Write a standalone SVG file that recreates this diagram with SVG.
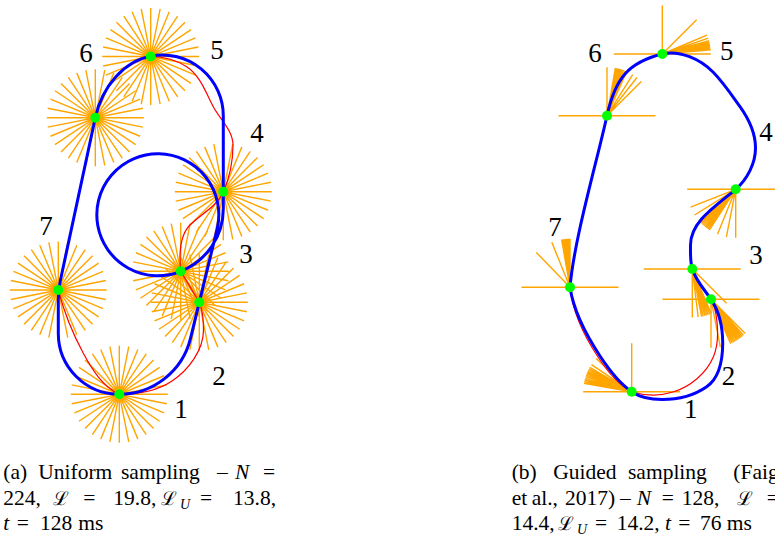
<svg xmlns="http://www.w3.org/2000/svg" xmlns:xlink="http://www.w3.org/1999/xlink" width="775" height="535" viewBox="0 0 775 535">
<style>
.ray{stroke:#FFA500;stroke-width:1.4;fill:none}
.blue{stroke:#0000FF;stroke-width:3;fill:none;stroke-linejoin:round}
.red{stroke:#FF0000;stroke-width:1.2;fill:none}
.wp{fill:#00FF00}
.lbl{font-family:"Liberation Serif","DejaVu Serif",serif;font-size:27px;text-anchor:middle;fill:#000}
.cap{font-family:"Liberation Serif","DejaVu Serif",serif;font-size:21.5px;fill:#000}
.it{font-style:italic}
.sc{font-size:19px}
.sub{font-style:italic;font-size:14px}
</style>
<defs>
<path id="star" class="ray" d="M48.5 0H-48.5M47.57 9.46L-47.57 -9.46M44.81 18.56L-44.81 -18.56M40.33 26.94L-40.33 -26.94M34.29 34.29L-34.29 -34.29M26.94 40.33L-26.94 -40.33M18.56 44.81L-18.56 -44.81M9.46 47.57L-9.46 -47.57M0 48.5V-48.5M-9.46 47.57L9.46 -47.57M-18.56 44.81L18.56 -44.81M-26.94 40.33L26.94 -40.33M-34.29 34.29L34.29 -34.29M-40.33 26.94L40.33 -26.94M-44.81 18.56L44.81 -18.56M-47.57 9.46L47.57 -9.46"/>
</defs>
<rect width="775" height="535" fill="#fff"/>

<!-- Panel (a): uniform sampling -->
<g id="a-samples">
<use xlink:href="#star" href="#star" x="119.3" y="394.3"/>
<use xlink:href="#star" href="#star" x="199.3" y="302.3"/>
<use xlink:href="#star" href="#star" x="180.7" y="271.3"/>
<use xlink:href="#star" href="#star" x="223.3" y="191.7"/>
<use xlink:href="#star" href="#star" x="150.7" y="56.5"/>
<use xlink:href="#star" href="#star" x="95.3" y="117.7"/>
<use xlink:href="#star" href="#star" x="58.3" y="290"/>
</g>
<g id="a-connectors">
<path class="red" d="M119.3 394.3C137.4 394.3 157 391.1 172 381C188.6 369.8 203.5 350 203.5 330C203.5 320.7 203 310.9 199.3 302.3L180.7 271.3C179.1 255.6 179 236 190 225C200.9 214.1 217.1 206.4 223.3 192C229.7 177.3 233 161 233 145C233 130.6 220.1 119.4 213.3 106.7C205.8 92.6 200.1 75.5 186.7 66.7C176.2 59.8 163.2 56.7 150.7 56.5C124.3 61.2 102.1 85.9 95.3 117.7L58.3 290C64 312 72.6 333.3 83.3 353.3C91.9 369.3 102.9 387 119.3 394.3"/>
<path class="blue" d="M119.3 394.3A73.3 73.3 0 0 0 190.5 338.4L199.3 302.3L217.3 228.3A61 61 0 1 0 180.7 271.3A67.4 67.4 0 0 0 223.3 208.6L223.3 116A61 61 0 0 0 150.7 56.1C124.3 61.2 102.1 85.9 95.3 117.7L60.4 280.3Q58.3 290 58.3 300L58.3 333.5A61 61 0 0 0 119.3 394.3Z"/>
</g>
<g id="a-waypoints">
<g id="a-wp1"><circle class="wp" cx="119.3" cy="394.3" r="5"/><text class="lbl" x="181" y="418">1</text></g>
<g id="a-wp2"><circle class="wp" cx="199.3" cy="302.3" r="5"/><text class="lbl" x="219" y="385">2</text></g>
<g id="a-wp3"><circle class="wp" cx="180.7" cy="271.3" r="5"/><text class="lbl" x="246" y="263">3</text></g>
<g id="a-wp4"><circle class="wp" cx="223.3" cy="191.7" r="5"/><text class="lbl" x="257" y="141.5">4</text></g>
<g id="a-wp5"><circle class="wp" cx="150.7" cy="56.5" r="5"/><text class="lbl" x="217" y="59">5</text></g>
<g id="a-wp6"><circle class="wp" cx="95.3" cy="117.7" r="5"/><text class="lbl" x="86" y="62">6</text></g>
<g id="a-wp7"><circle class="wp" cx="58.3" cy="290" r="5"/><text class="lbl" x="46" y="235">7</text></g>
</g>

<!-- Panel (b): guided sampling -->
<g id="b-samples" class="ray">
<path transform="translate(631.7 391.7)" d="M-48.5 0H48.5M0 0V-48.5M0 0L-42 -24.3M0 0L-42.8 -22.8M0 0L-43.6 -21.3M0 0L-44.3 -19.7M0 0L-45 -18.2M0 0L-45.6 -16.6M0 0L-46.1 -15M0 0L-46.6 -13.4M0 0L-47.1 -11.7M0 0L-47.4 -10.1M0 0L-47.8 -8.4M0 0L-40.2 -27.1M0 0L-35.5 -33.1"/>
<path transform="translate(711 299.3)" d="M-48.5 0H48.5M0 0V48.5M0 0L34.3 34.3M0 0L32.5 36M0 0L31.2 37.2M0 0L29.9 38.2M0 0L28.5 39.2M0 0L27.1 40.2M0 0L25.7 41.1M0 0L24.3 42M0 0L22.8 42.8M0 0L21.3 43.6M0 0L19.7 44.3M0 0L9.3 47.6"/>
<path transform="translate(692.3 269)" d="M-48.5 0H48.5M0 0V48.5M0 0L34.3 34.3M0 0L18.9 44.6M0 0L17.4 45.3M0 0L15.8 45.9M0 0L14.2 46.4M0 0L12.6 46.8M0 0L10.9 47.3M0 0L9.3 47.6M0 0L5.9 48.1"/>
<path transform="translate(735.7 189.3)" d="M-48.5 0H48.5M0 0V48.5M0 0L-45.1 17.8M0 0L-41.1 25.7M0 0L-36.6 31.8M0 0L-35.5 33.1M0 0L-34.3 34.3M0 0L-33.1 35.5M0 0L-31.8 36.6M0 0L-30.5 37.7M0 0L-29.2 38.7M0 0L-27.8 39.7M0 0L-26.4 40.7M0 0L-18.2 45M0 0L-9.3 47.6"/>
<path transform="translate(662.3 54)" d="M-48.5 0H48.5M0 0V-48.5M0 0L34.3 -34.3M0 0L44.6 -18.9M0 0L45.9 -15.8M0 0L46.6 -13.4M0 0L47.1 -11.7M0 0L47.3 -10.9M0 0L47.4 -10.1M0 0L47.6 -9.3M0 0L47.8 -8.4M0 0L47.9 -7.6M0 0L48 -6.8M0 0L48.1 -5.9M0 0L48.2 -5.1M0 0L48.3 -4.2"/>
<path transform="translate(607 115.7)" d="M-48.5 0H48.5M0 0V-48.5M0 0L34.3 -34.3M0 0L29.9 -38.2M0 0L25.7 -41.1M0 0L19.7 -44.3M0 0L18.2 -45M0 0L16.6 -45.6M0 0L15 -46.1M0 0L14.2 -46.4M0 0L13.4 -46.6M0 0L12.6 -46.8M0 0L11.7 -47.1M0 0L10.9 -47.3M0 0L10.1 -47.4M0 0L9.3 -47.6M0 0L8.4 -47.8"/>
<path transform="translate(570 287.3)" d="M-48.5 0H48.5M0 0V-48.5M0 0L-0.8 -48.5M0 0L-1.7 -48.5M0 0L-2.5 -48.4M0 0L-3.4 -48.4M0 0L-4.2 -48.3M0 0L-5.1 -48.2M0 0L-5.9 -48.1M0 0L-6.8 -48M0 0L-7.6 -47.9M0 0L-8.4 -47.8M0 0L-18.2 -45M0 0L-33.7 -34.9"/>
</g>
<g id="b-connectors">
<path class="red" d="M570 287.3C572.5 312 584 336 598 357C607 371 617 384 631.7 391.7C644.8 395.8 660.2 396 673 392C690.1 386.8 706.4 373.4 713.3 357C717.9 346.2 718.2 333.7 717 322C716.2 314.2 715.4 305.8 711 299.3C704.3 289.4 695.8 280.4 692.3 269C690 261.3 690.5 253 690.5 245C690.5 221.1 717.5 204.8 735.7 189.3C747.3 179.4 755.5 163.3 755.5 148C755.5 133.3 748.5 118.6 740 106.7C731.5 94.8 723.3 82.4 713 72C700.5 59.3 679.7 49.7 662.3 54C629 62.2 615.2 77.6 607 115.7C596 165 574 240 570 287.3"/>
<path class="blue" d="M631.7 391.7C640.3 397.5 651.6 399.5 662 399.5C677.5 399.5 694 395.5 706.7 386.7C719.4 377.9 722.7 358.5 722.7 343C722.7 327.9 719.5 311.8 711 299.3C704.3 289.4 695.8 280.4 692.3 269C690 261.3 690.5 253 690.5 245C690.5 221.1 717.5 204.8 735.7 189.3C747.3 179.4 755.5 163.3 755.5 148C755.5 133.3 748.5 118.6 740 106.7C731.5 94.8 723.3 82.4 713 72C700.5 59.3 679.7 49.7 662.3 54C629 62.2 615.2 77.6 607 115.7C596 165 574 240 570 287.3C573.7 312 586.3 335.3 600 356C608.7 369.2 618.5 382.8 631.7 391.7Z"/>
</g>
<g id="b-waypoints">
<g id="b-wp1"><circle class="wp" cx="631.7" cy="391.7" r="5"/><text class="lbl" x="690.7" y="417.5">1</text></g>
<g id="b-wp2"><circle class="wp" cx="711" cy="299.3" r="5"/><text class="lbl" x="728.5" y="384.5">2</text></g>
<g id="b-wp3"><circle class="wp" cx="692.3" cy="269" r="5"/><text class="lbl" x="756" y="263.5">3</text></g>
<g id="b-wp4"><circle class="wp" cx="735.7" cy="189.3" r="5"/><text class="lbl" x="766" y="141">4</text></g>
<g id="b-wp5"><circle class="wp" cx="662.3" cy="54" r="5"/><text class="lbl" x="726.7" y="59.5">5</text></g>
<g id="b-wp6"><circle class="wp" cx="607" cy="115.7" r="5"/><text class="lbl" x="595" y="62">6</text></g>
<g id="b-wp7"><circle class="wp" cx="570" cy="287.3" r="5"/><text class="lbl" x="555" y="236">7</text></g>
</g>

<!-- Captions -->
<g id="caption-a" class="cap">
<text y="478.5"><tspan x="3.3">(a)</tspan><tspan x="38.3">Uniform</tspan><tspan x="121">sampling</tspan><tspan x="217">–</tspan><tspan x="235" class="it">N</tspan><tspan x="263">=</tspan></text>
<text y="505"><tspan x="3.3">224,</tspan><tspan x="53.3" class="sc">ℒ</tspan><tspan x="83.3">=</tspan><tspan x="113.3">19.8,</tspan><tspan x="161" class="sc">ℒ</tspan><tspan x="180" dy="4" class="sub">U</tspan><tspan x="200" dy="-4">=</tspan><tspan x="233">13.8,</tspan></text>
<text y="529.5"><tspan x="3.3" class="it">t</tspan><tspan x="16.7">=</tspan><tspan x="40">128</tspan><tspan x="78.3">ms</tspan></text>
</g>
<g id="caption-b" class="cap">
<text y="478.5"><tspan x="511.7">(b)</tspan><tspan x="553.3">Guided</tspan><tspan x="628">sampling</tspan><tspan x="733.3">(Faigl</tspan></text>
<text y="505"><tspan x="511.7">et</tspan><tspan x="531.7">al.,</tspan><tspan x="565">2017)</tspan><tspan x="620">–</tspan><tspan x="636.7" class="it">N</tspan><tspan x="661.7">=</tspan><tspan x="681.7">128,</tspan><tspan x="736.7" class="sc">ℒ</tspan><tspan x="766.7">=</tspan></text>
<text y="529.5"><tspan x="511.7">14.4,</tspan><tspan x="558" class="sc">ℒ</tspan><tspan x="577" dy="4" class="sub">U</tspan><tspan x="595" dy="-4">=</tspan><tspan x="616.7">14.2,</tspan><tspan x="665" class="it">t</tspan><tspan x="678.3">=</tspan><tspan x="700">76</tspan><tspan x="726.7">ms</tspan></text>
</g>
</svg>
